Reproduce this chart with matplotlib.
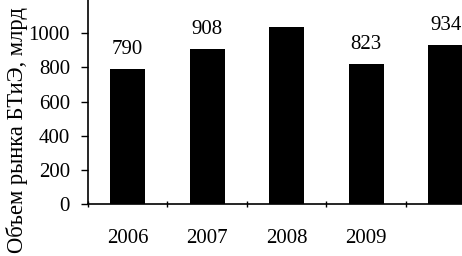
import matplotlib
matplotlib.use("Agg")
import matplotlib.pyplot as plt
import numpy as np

years = ["2006", "2007", "2008", "2009", ""]
volume = [790, 908, 1035, 823, 934]
value_labels = ["790", "908", "", "823", "934"]
yticks = [0, 200, 400, 600, 800, 1000]

plt.rcParams["font.family"] = ["Liberation Serif", "DejaVu Serif"]
plt.rcParams["font.size"] = 15

fig = plt.figure(figsize=(4.62, 2.56), dpi=100)
ax = fig.add_axes([0.1905, 0.203, 0.86, 0.797])

x = np.arange(len(volume))
bars = ax.bar(x, volume, width=0.44, color="black")
for b, lab in zip(bars, value_labels):
    if lab:
        ax.annotate(lab, (b.get_x() + b.get_width() / 2, b.get_height()),
                    xytext=(0, 7), textcoords="offset points",
                    ha="center", va="bottom", fontsize=15)

ax.set_xlim(-0.5, 4.5)
ax.set_ylim(0, 1195)
ax.set_yticks(yticks)
ax.set_xticks(x)
ax.set_xticklabels(years)
ax.tick_params(axis="x", which="major", length=0, pad=18)
ax.set_xticks(np.arange(-0.5, 5, 1), minor=True)
ax.tick_params(axis="x", which="minor", length=5, direction="inout", width=1)
ax.tick_params(axis="y", length=5, width=1, pad=8)

for s in ("top", "right"):
    ax.spines[s].set_visible(False)
for s in ("left", "bottom"):
    ax.spines[s].set_linewidth(1.2)

ax.set_ylabel("Объем рынка БТиЭ, млрд", fontsize=16.3)
ax.yaxis.set_label_coords(-0.152, 0.365)

fig.savefig("out.png", dpi=100)
